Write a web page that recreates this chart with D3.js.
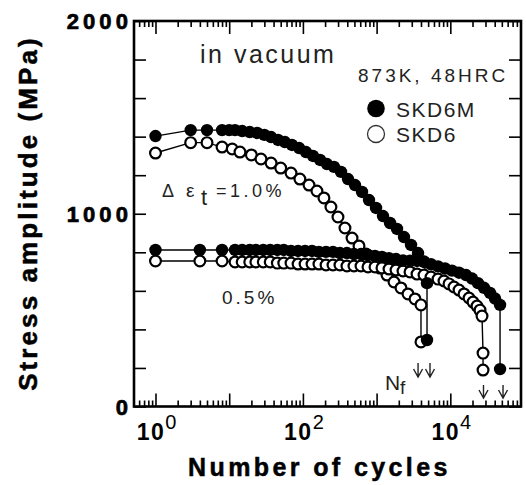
<!DOCTYPE html>
<html><head><meta charset="utf-8">
<script src="https://cdn.jsdelivr.net/npm/d3@7"></script>
<style>body{margin:0;background:#fff}svg{display:block}text{font-family:"Liberation Sans",Arial,Helvetica,sans-serif}</style>
</head><body><svg id="c" width="526" height="485"></svg>
<script>
// ---- data ----
const cyclesSKD6M_10 = [1,3,5,8,10,12,15,19,24,30,37,46,57,71,89,110,137,171,212,264,329,409,509,634,789,982,1222,1521,1892,2355,2931,3648,4400,4830,4830];
const stressSKD6M_10 = [1403,1434,1434,1434,1434,1434,1429,1424,1419,1409,1398,1383,1372,1357,1341,1320,1300,1279,1258,1243,1217,1180,1149,1113,1071,1030,988,952,921,879,838,796,750,640,345];

const cyclesSKD6_10 = [1,3,5,8,11,14,20,27,37,50,69,91,121,155,193,240,299,372,464,577,718,894,1112,1384,1722,2143,2667,3319,4000,4000];
const stressSKD6_10 = [1315,1369,1369,1346,1336,1320,1305,1284,1263,1237,1211,1180,1149,1118,1082,1035,983,926,874,833,791,755,718,682,646,615,584,558,527,335];

const cyclesSKD6M_05 = [1,4,8,12,15,19,23,29,36,45,55,69,86,107,133,165,206,256,318,396,493,614,764,951,1183,1473,1833,2281,2839,3534,4398,5474,6812,8477,10550,13130,16340,19710,23770,28680,34590,40450,47300,47300];
const stressSKD6M_05 = [812,812,812,812,812,812,812,812,812,812,812,807,807,807,807,802,802,802,796,796,791,791,786,781,776,770,765,758,757,755,752,738,727,716,705,694,682,664,640,616,589,560,527,194];

const cyclesSKD6_05 = [1,4,8,12,15,19,23,29,36,45,55,69,86,107,133,165,206,256,318,396,493,614,764,951,1183,1473,1833,2281,2839,3534,4398,5474,6812,8210,9600,11220,13130,15350,17950,20340,23020,25300,26920,27800,27800];
const stressSKD6_05 = [755,755,755,750,750,750,750,750,750,744,744,744,739,739,739,739,734,734,734,729,729,729,724,724,719,713,708,703,698,687,682,672,661,651,636,620,604,584,563,542,521,500,469,277,189];

// failure (Nf) arrows
const nfCycles = [3650, 5300, 28200, 51900];
const nfArrowTop = [226, 226, 112, 112];
const nfArrowBottom = [153, 153, 44, 44];

const xTickExponents = [0, 2, 4];
const yTickLabels = [0, 1000, 2000];
const yTickStep = 200;
const legendNames = ["SKD6M", "SKD6"];

// ---- chart ----
const svg = d3.select("#c");
const x = d3.scaleLog().domain([0.511, 91000]).range([134, 521]);
const y = d3.scaleLinear().domain([0, 2000]).range([406.5, 21]);

svg.append("rect").attr("width",526).attr("height",485).attr("fill","#fff");

// ticks
const minor = [], major = [];
for (let e = -1; e <= 5; e++) for (let m = 1; m <= 9; m++) {
  const v = m * Math.pow(10, e);
  if (v >= x.domain()[0] && v <= x.domain()[1]) (m === 1 ? major : minor).push(v);
}
const yTicks = d3.range(0, 2001, yTickStep);

function styleAxis(g){ g.select(".domain").remove(); g.selectAll("line").attr("stroke","#000").attr("stroke-width",1.6); }

svg.append("g").attr("transform","translate(0,406.5)").call(d3.axisBottom(x).tickValues(minor).tickSize(-6).tickFormat("")).call(styleAxis);
svg.append("g").attr("transform","translate(0,406.5)").call(d3.axisBottom(x).tickValues(major).tickSize(-13).tickFormat("")).call(styleAxis);
svg.append("g").attr("transform","translate(0,21)").call(d3.axisTop(x).tickValues(minor).tickSize(-6).tickFormat("")).call(styleAxis);
svg.append("g").attr("transform","translate(0,21)").call(d3.axisTop(x).tickValues(major).tickSize(-13).tickFormat("")).call(styleAxis);
svg.append("g").attr("transform","translate(134,0)").call(d3.axisLeft(y).tickValues(yTicks).tickSize(-12).tickFormat("")).call(styleAxis);
svg.append("g").attr("transform","translate(521,0)").call(d3.axisRight(y).tickValues(yTicks).tickSize(-12).tickFormat("")).call(styleAxis);

// frame
svg.append("rect").attr("x",134).attr("y",21).attr("width",387).attr("height",385.5)
  .attr("fill","none").attr("stroke","#000").attr("stroke-width",2.6);

// y tick labels
svg.append("g").selectAll("text").data(yTickLabels).join("text")
  .attr("x", 132).attr("y", d => y(d) + 8)
  .attr("text-anchor","end").attr("font-size",22).attr("font-weight","bold")
  .attr("letter-spacing", 4.1).attr("fill","#000").attr("stroke","#000").attr("stroke-width",0.7).text(d => d);

// x tick labels with superscript
const xl = svg.append("g").selectAll("text").data(xTickExponents).join("text")
  .attr("x", d => x(Math.pow(10, d)) + 1).attr("y", 440).attr("text-anchor","middle").attr("fill","#000");
xl.append("tspan").attr("font-size",23).attr("font-weight","bold").attr("letter-spacing",1.5).text("10");
xl.append("tspan").attr("font-size",20).attr("dy",-11).text(d => d);

// axis titles
svg.append("text").attr("x",188).attr("y",476).attr("font-size",25).attr("font-weight","bold")
  .attr("letter-spacing",3.4).attr("fill","#000").attr("stroke","#000").attr("stroke-width",0.5).text("Number of cycles");
svg.append("text").attr("transform","translate(37,213) rotate(-90)").attr("text-anchor","middle")
  .attr("font-size",26).attr("font-weight","bold").attr("letter-spacing",3.1).attr("fill","#000")
  .attr("stroke","#000").attr("stroke-width",0.5)
  .text("Stress amplitude (MPa)");

// series
const series = [
  {N: cyclesSKD6_10,  S: stressSKD6_10,  filled: false},
  {N: cyclesSKD6_05,  S: stressSKD6_05,  filled: false},
  {N: cyclesSKD6M_05, S: stressSKD6M_05, filled: true},
  {N: cyclesSKD6M_10, S: stressSKD6M_10, filled: true}
];
const line = d3.line();
series.forEach(s => {
  const pts = s.N.map((n, i) => [x(n), y(s.S[i])]);
  svg.append("path").attr("d", line(pts)).attr("fill","none").attr("stroke","#000").attr("stroke-width",1.4);
});
series.forEach(s => {
  const pts = s.N.map((n, i) => [x(n), y(s.S[i])]);
  svg.append("g").selectAll("circle").data(pts).join("circle")
    .attr("cx", d => d[0]).attr("cy", d => d[1])
    .attr("r", s.filled ? 6.2 : 5.4)
    .attr("fill", s.filled ? "#000" : "#fff")
    .attr("stroke","#000").attr("stroke-width", s.filled ? 0 : 2.2);
});

// Nf arrows
svg.append("g").selectAll("path").data(nfCycles).join("path")
  .attr("d", (n, i) => {
    const xx = x(n), yt = y(nfArrowTop[i]), yb = y(nfArrowBottom[i]);
    return `M${xx},${yt}L${xx},${yb}M${xx-4.5},${yb-8}L${xx},${yb}L${xx+4.5},${yb-8}`;
  })
  .attr("fill","none").attr("stroke","#222").attr("stroke-width",1.4);

// annotations
const ink = "#222";
svg.append("text").attr("x",200).attr("y",63).attr("font-size",25).attr("letter-spacing",2.5).attr("fill",ink).text("in vacuum");
svg.append("text").attr("x",358).attr("y",82).attr("font-size",19).attr("letter-spacing",3).attr("fill",ink).text("873K, 48HRC");
svg.append("circle").attr("cx",376).attr("cy",108.5).attr("r",8.8).attr("fill","#000");
svg.append("circle").attr("cx",376).attr("cy",134).attr("r",8.5).attr("fill","#fff").attr("stroke","#333").attr("stroke-width",1.3);
svg.append("text").attr("x",396).attr("y",117).attr("font-size",21).attr("letter-spacing",1.5).attr("fill",ink).text(legendNames[0]);
svg.append("text").attr("x",396).attr("y",142).attr("font-size",21).attr("letter-spacing",1.5).attr("fill",ink).text(legendNames[1]);

svg.append("text").attr("x",162).attr("y",197).attr("font-size",18).attr("fill",ink).text("Δ");
svg.append("text").attr("x",186).attr("y",197).attr("font-size",19).attr("fill",ink).text("ε");
svg.append("text").attr("x",201).attr("y",205).attr("font-size",22).attr("fill",ink).text("t");
svg.append("text").attr("x",216).attr("y",197).attr("font-size",18).attr("letter-spacing",3.5).attr("fill",ink).text("=1.0%");
svg.append("text").attr("x",222).attr("y",304).attr("font-size",19).attr("letter-spacing",3).attr("fill",ink).text("0.5%");
svg.append("text").attr("x",385).attr("y",390).attr("font-size",21).attr("fill",ink).text("N");
svg.append("text").attr("x",400).attr("y",394).attr("font-size",19).attr("fill",ink).text("f");
</script>
</body></html>
